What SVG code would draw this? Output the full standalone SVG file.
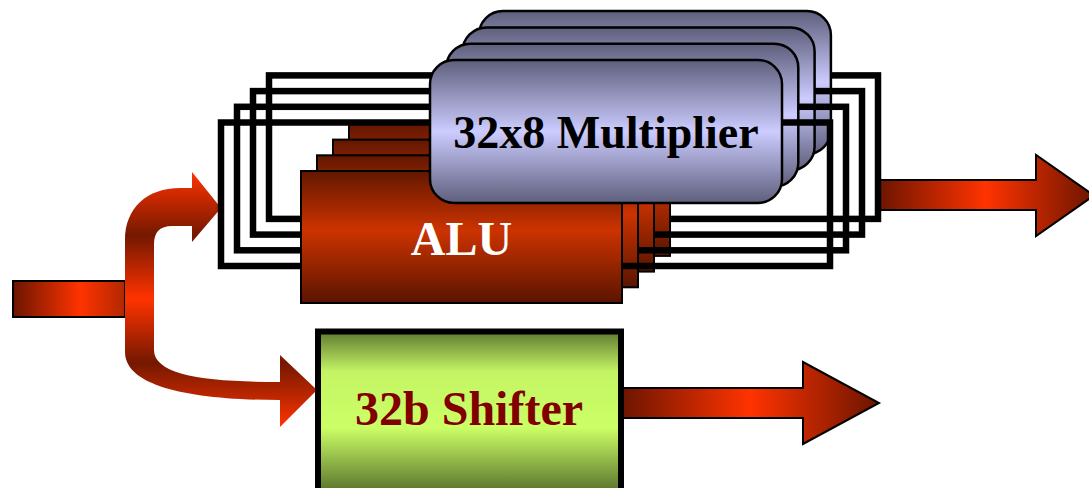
<svg xmlns="http://www.w3.org/2000/svg" width="1089" height="488" viewBox="0 0 1089 488">
<defs>
<linearGradient id="gAlu" x1="0" y1="0" x2="0" y2="1">
<stop offset="0" stop-color="#621700"/><stop offset="0.45" stop-color="#cc3300"/><stop offset="1" stop-color="#5a1400"/>
</linearGradient>
<linearGradient id="gMul" x1="0" y1="0" x2="0" y2="1">
<stop offset="0" stop-color="#5e5e7c"/><stop offset="0.5" stop-color="#ccccff"/><stop offset="1" stop-color="#5e5e7c"/>
</linearGradient>
<linearGradient id="gShift" x1="0" y1="0" x2="0" y2="1">
<stop offset="0" stop-color="#5f7a30"/><stop offset="0.25" stop-color="#c4f464"/><stop offset="0.6" stop-color="#ccff66"/><stop offset="1" stop-color="#5a742d"/>
</linearGradient>
<linearGradient id="gOut" x1="0" y1="0" x2="1" y2="0">
<stop offset="0" stop-color="#6b1500"/><stop offset="0.5" stop-color="#ff3300"/><stop offset="1" stop-color="#6b1500"/>
</linearGradient>
<linearGradient id="gIn" x1="0" y1="0" x2="1" y2="0">
<stop offset="0" stop-color="#6b1500"/><stop offset="0.6" stop-color="#ff3300"/><stop offset="1" stop-color="#b02800"/>
</linearGradient>
<linearGradient id="gSplit" x1="0" y1="0" x2="0" y2="1">
<stop offset="0" stop-color="#ff3300"/><stop offset="0.5" stop-color="#741800"/><stop offset="1" stop-color="#ff3300"/>
</linearGradient>
<style>
.frame{fill:none;stroke:#000;stroke-width:6.5;stroke-linejoin:miter}
.alu{fill:url(#gAlu);stroke:#000;stroke-width:2}
.mul{fill:url(#gMul);stroke:#000;stroke-width:2.5}
.arr{stroke:#000;stroke-width:2;stroke-linejoin:miter}
.lbl{font-family:"Liberation Serif","Times New Roman",serif;font-weight:bold;text-anchor:middle}
</style>
</defs>
<rect width="1089" height="488" fill="#ffffff"/>
<g id="connectors">
<rect class="arr" x="13" y="281" width="112" height="36" fill="url(#gIn)"/>
<path d="M125 299 L125 240 C125 208 147 188 180 188 L192 188 L192 172 L221 208 L192 242 L192 226 L172 226 C160 226 154 232 154 244 L154 299 Z" fill="url(#gSplit)"/>
<path d="M125 299 L125 352 C125 385 185 400 280 400 L280 427 L317 390 L280 355 L280 382 C205 382 154 375 154 350 L154 299 Z" fill="url(#gSplit)"/>
<path class="arr" d="M878 180 L1036 180 L1036 155 L1094 195.5 L1036 236 L1036 210 L878 210 Z" fill="url(#gOut)"/>
<path class="arr" d="M621 388 L803 388 L803 362 L879 403 L803 444 L803 418 L621 418 Z" fill="url(#gOut)"/>
</g>
<g id="unit-3">
<rect class="frame" x="269" y="75.4" width="609" height="143.5"/>
<rect class="alu" x="349" y="123.9" width="321" height="132"/>
<rect class="mul" x="478.9" y="11.1" width="352" height="143" rx="24" ry="24"/>
</g>
<g id="unit-2">
<rect class="frame" x="253" y="91.1" width="609" height="143.5"/>
<rect class="alu" x="333" y="139.6" width="321" height="132"/>
<rect class="mul" x="462.6" y="27.4" width="352" height="143" rx="24" ry="24"/>
</g>
<g id="unit-1">
<rect class="frame" x="237" y="106.8" width="609" height="143.5"/>
<rect class="alu" x="317" y="155.3" width="321" height="132"/>
<rect class="mul" x="446.3" y="43.7" width="352" height="143" rx="24" ry="24"/>
</g>
<g id="unit-0">
<rect class="frame" x="221" y="122.5" width="609" height="143.5"/>
<g id="alu">
<rect class="alu" x="301" y="171" width="321" height="132"/>
<text class="lbl" x="461.5" y="255" font-size="48" fill="#ffffff">ALU</text>
</g>
<g id="multiplier">
<rect class="mul" x="430" y="60" width="352" height="143" rx="24" ry="24"/>
<text class="lbl" x="606" y="148" font-size="46" fill="#000000">32x8 Multiplier</text>
</g>
</g>
<g id="shifter">
<rect x="318" y="331.5" width="303" height="160" fill="url(#gShift)" stroke="#000" stroke-width="6"/>
<text class="lbl" x="469" y="425" font-size="48" fill="#800000">32b Shifter</text>
</g>
</svg>
